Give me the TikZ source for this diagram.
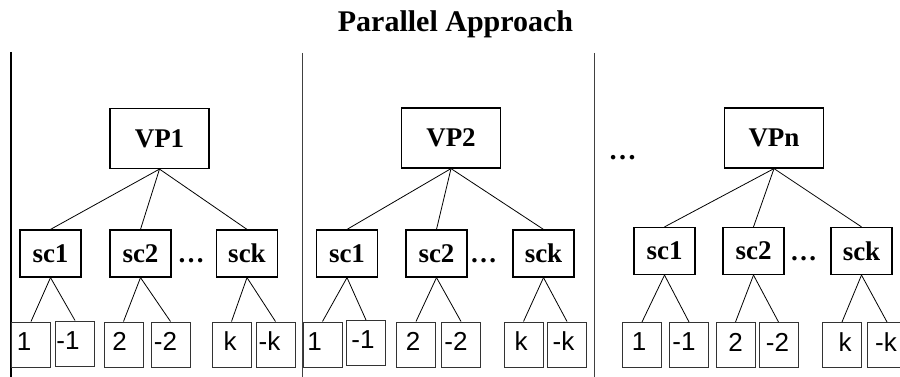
\documentclass[tikz,border=0pt]{standalone}
\usepackage{fontspec}
\setmainfont{Liberation Serif}
\newfontfamily\leaffont{Liberation Sans}
% centre a label #2 at a horizontal offset of #1 pt from its box centre
\newcommand\nudge[2]{\hbox to 0pt{\hss\kern#1pt\kern#1pt #2\hss}}
\begin{document}
\begin{tikzpicture}[x=1pt,y=-1pt,
  box/.style={draw=black, line width=1.2pt, inner sep=0pt},
  bigbold/.style={font=\fontsize{27}{30}\selectfont\bfseries},
  vpbox/.style={box, bigbold, minimum width=99pt, minimum height=60pt},
  scbox/.style={box, bigbold, minimum width=61pt, minimum height=47pt},
  leaf/.style={draw=black!80, line width=1pt, inner sep=0pt,
    minimum width=39pt, minimum height=45pt, text depth=6pt,
    font=\fontsize{26}{28}\selectfont\leaffont},
  link/.style={draw=black, line width=0.8pt},
  sep/.style={draw=black!75, line width=1pt},
  gap/.style={bigbold, inner sep=0pt, anchor=base},
]
\useasboundingbox (0,0) rectangle (900,377);
\clip (0,0) rectangle (900,377);

% heading
\node[font=\fontsize{30}{34}\selectfont\bfseries, anchor=base] (title) at (455.5,32) {Parallel Approach};

% column separators
\coordinate (s1t) at (11,52);  \coordinate (s1b) at (11,380);
\coordinate (s2t) at (302,53); \coordinate (s2b) at (302,380);
\coordinate (s3t) at (594,53); \coordinate (s3b) at (594,380);
\draw[sep, line width=1.6pt, draw=black] (s1t) -- (s1b);
\draw[sep] (s2t) -- (s2b);
\draw[sep] (s3t) -- (s3b);

% virtual processors
\node[vpbox] (vp1) at (159.5,138.5) {VP1};
\node[vpbox] (vp2) at (451,138) {VP2};
\node[vpbox] (vpn) at (774,138) {VPn};
\node[gap, font=\fontsize{28}{30}\selectfont\bfseries] (vpdots) at (622.5,160) {…};

% group 1
\node[scbox] (g1s1) at (50.5,253.5) {sc1};
\node[scbox] (g1s2) at (140.5,253.5) {sc2};
\node[scbox] (g1sk) at (247,253.5) {sck};
\node[gap] (g1dots) at (191,262) {…};
\node[leaf] (g1a) at (31,344.5) {\nudge{-7}{1}};
\node[leaf] (g1b) at (75,343.5) {\nudge{-7}{-1}};
\node[leaf] (g1c) at (123.5,344.5) {\nudge{-4}{2}};
\node[leaf] (g1d) at (170.5,344.5) {\nudge{-5}{-2}};
\node[leaf] (g1e) at (231.5,344.5) {\nudge{-1.5}{k}};
\node[leaf] (g1f) at (275.5,344.5) {\nudge{-6}{-k}};

% group 2
\node[scbox] (g2s1) at (347,253.5) {sc1};
\node[scbox] (g2s2) at (436.5,253.5) {sc2};
\node[scbox] (g2sk) at (543.5,253.5) {sck};
\node[gap] (g2dots) at (483.5,262) {…};
\node[leaf] (g2a) at (322.5,344.5) {\nudge{-8}{1}};
\node[leaf] (g2b) at (366,343) {\nudge{-3}{-1}};
\node[leaf] (g2c) at (416,344.5) {\nudge{-3}{2}};
\node[leaf] (g2d) at (461,344.5) {\nudge{-5}{-2}};
\node[leaf] (g2e) at (523.5,344.5) {\nudge{-2.5}{k}};
\node[leaf] (g2f) at (567,344.5) {\nudge{-3.5}{-k}};

% group n
\node[scbox] (g3s1) at (664.5,251) {sc1};
\node[scbox] (g3s2) at (753.5,251) {sc2};
\node[scbox] (g3sk) at (861.5,251) {sck};
\node[gap] (g3dots) at (803.5,260) {…};
\node[leaf] (g3a) at (642,345) {\nudge{-3}{1}};
\node[leaf] (g3b) at (689,345) {\nudge{-5}{-1}};
\node[leaf] (g3c) at (735.5,345) {\nudge{0}{2}};
\node[leaf] (g3d) at (778.5,345) {\nudge{-1}{-2}};
\node[leaf] (g3e) at (842,345) {\nudge{3}{k}};
\node[leaf] (g3f) at (887,345) {\nudge{-1}{-k}};

% processor to sub-circuit links
\foreach \v/\g in {vp1/g1, vp2/g2, vpn/g3} {
  \foreach \s in {s1, s2, sk} {
    \draw[link] (\v.south) -- (\g\s.north);
  }
}
% sub-circuit to leaf links
\foreach \g in {g1, g2, g3} {
  \draw[link] (\g s1.south) -- (\g a.north);
  \draw[link] (\g s1.south) -- (\g b.north);
  \draw[link] (\g s2.south) -- (\g c.north);
  \draw[link] (\g s2.south) -- (\g d.north);
  \draw[link] (\g sk.south) -- (\g e.north);
  \draw[link] (\g sk.south) -- (\g f.north);
}
\end{tikzpicture}
\end{document}
